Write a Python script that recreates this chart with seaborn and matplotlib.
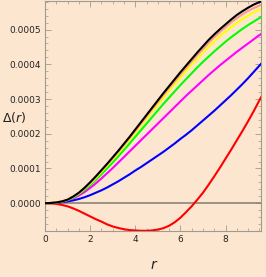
import numpy as np
import pandas as pd
import matplotlib
matplotlib.use("Agg")
import matplotlib.pyplot as plt
import seaborn as sns
from matplotlib.ticker import MultipleLocator, FormatStrFormatter

# radius grid
r = [0, 0.25, 0.5, 0.75, 1, 1.25, 1.5, 1.75, 2, 2.25, 2.5, 2.75, 3, 3.25, 3.5, 3.75,
     4, 4.25, 4.5, 4.75, 5, 5.25, 5.5, 5.75, 6, 6.25, 6.5, 6.75, 7, 7.25, 7.5, 7.75,
     8, 8.25, 8.5, 8.75, 9, 9.25, 9.5, 9.6]

# Delta(r) values in units of 1e-4
black = [0, .005, .02, .05, .10, .19, .30, .44, .60, .77, .95, 1.13, 1.32, 1.51, 1.71, 1.91,
         2.12, 2.33, 2.54, 2.75, 2.96, 3.17, 3.37, 3.57, 3.77, 3.96, 4.15, 4.34, 4.52, 4.70,
         4.86, 5.01, 5.15, 5.29, 5.42, 5.53, 5.63, 5.72, 5.79, 5.82]
salmon = [0, .005, .02, .05, .10, .19, .29, .43, .58, .75, .93, 1.11, 1.29, 1.48, 1.68, 1.88,
          2.08, 2.29, 2.50, 2.71, 2.91, 3.12, 3.32, 3.51, 3.71, 3.90, 4.08, 4.27, 4.44, 4.62,
          4.78, 4.93, 5.07, 5.21, 5.33, 5.44, 5.54, 5.62, 5.69, 5.72]
yellow = [0, .005, .02, .05, .10, .18, .28, .42, .56, .72, .90, 1.08, 1.26, 1.44, 1.63, 1.83,
          2.03, 2.23, 2.44, 2.64, 2.84, 3.04, 3.24, 3.43, 3.62, 3.81, 3.99, 4.16, 4.33, 4.50,
          4.66, 4.80, 4.94, 5.07, 5.19, 5.30, 5.40, 5.49, 5.57, 5.60]
green = [0, .005, .02, .05, .09, .16, .26, .38, .52, .67, .83, 1.00, 1.17, 1.35, 1.53, 1.72,
         1.91, 2.10, 2.29, 2.48, 2.67, 2.86, 3.04, 3.22, 3.40, 3.57, 3.74, 3.91, 4.07, 4.22,
         4.37, 4.51, 4.65, 4.78, 4.90, 5.02, 5.13, 5.23, 5.33, 5.37]
magenta = [0, .005, .015, .04, .08, .14, .22, .32, .44, .57, .71, .86, 1.01, 1.17, 1.33, 1.49,
           1.65, 1.81, 1.97, 2.13, 2.29, 2.45, 2.61, 2.77, 2.93, 3.09, 3.24, 3.39, 3.54, 3.69,
           3.83, 3.97, 4.10, 4.23, 4.36, 4.48, 4.60, 4.72, 4.84, 4.88]
blue = [0, .003, .01, .03, .05, .08, .12, .17, .23, .30, .37, .45, .54, .63, .73, .83,
        .94, 1.04, 1.15, 1.26, 1.37, 1.48, 1.60, 1.72, 1.85, 1.97, 2.10, 2.24, 2.38, 2.52,
        2.66, 2.81, 2.96, 3.11, 3.27, 3.43, 3.60, 3.78, 3.96, 4.03]
red = [0, -.005, -.02, -.05, -.09, -.15, -.22, -.30, -.38, -.46, -.53, -.61, -.67, -.715, -.75, -.775,
       -.785, -.795, -.795, -.785, -.76, -.72, -.65, -.55, -.42, -.26, -.09, .10, .30, .53,
       .77, 1.02, 1.28, 1.54, 1.81, 2.08, 2.36, 2.65, 2.96, 3.08]

series_names = ["red", "blue", "magenta", "green", "yellow", "salmon", "black"]
series_vals = [red, blue, magenta, green, yellow, salmon, black]
colors = {"red": "#FF0000", "blue": "#0000FF", "magenta": "#FF00FF", "green": "#00FF00",
          "yellow": "#FFFF00", "salmon": "#FA9A8A", "black": "#000000"}

frames = []
for name, vals in zip(series_names, series_vals):
    frames.append(pd.DataFrame({"r": r, "delta": np.array(vals) * 1e-4, "s": name}))
df = pd.concat(frames, ignore_index=True)

sns.set_style("ticks")
plt.rcParams['font.family'] = ['Liberation Sans Narrow', 'DejaVu Sans']

bg = "#FDE6CF"
fig = plt.figure(figsize=(2.66, 2.77), dpi=100, facecolor=bg)
ax = fig.add_axes([0.169, 0.167, 0.812, 0.829])
ax.set_facecolor(bg)

ax.axhline(0, color="#8a8478", lw=1.2, zorder=1)
sns.lineplot(data=df, x="r", y="delta", hue="s", hue_order=series_names,
             palette=colors, lw=1.5, legend=False, ax=ax, zorder=3)

ax.set_xlim(0, 9.57)
ax.set_ylim(-0.0000794, 0.000582)
ax.xaxis.set_major_locator(MultipleLocator(2))
ax.xaxis.set_minor_locator(MultipleLocator(0.5))
ax.yaxis.set_major_locator(MultipleLocator(0.0001))
ax.yaxis.set_minor_locator(MultipleLocator(0.00002))
ax.yaxis.set_major_formatter(FormatStrFormatter("%.4f"))

for sp in ax.spines.values():
    sp.set_color("#a09a90")
    sp.set_linewidth(0.8)
ax.tick_params(which="both", direction="in", top=True, right=True, colors="#a09a90",
               labelcolor="#222222", labelsize=6.5, pad=3)
ax.tick_params(which="major", length=4, width=0.6)
ax.tick_params(which="minor", length=2, width=0.5)

ax.set_xlabel("")
ax.set_ylabel("")
fig.text(0.055, 0.575, r"$\Delta(r)$", fontsize=9, ha="center", va="center", color="#222222")
fig.text(0.58, 0.045, r"$r$", fontsize=10, ha="center", va="center", color="#222222")

fig.savefig("out.png", dpi=100, facecolor=bg)
